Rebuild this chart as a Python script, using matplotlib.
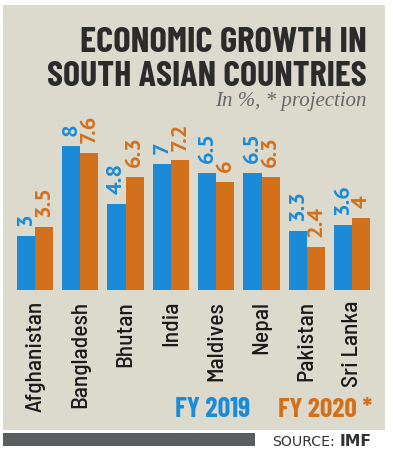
import matplotlib
matplotlib.use("Agg")
import matplotlib.pyplot as plt
from matplotlib import font_manager
from matplotlib.patches import Rectangle

countries = ["Afghanistan", "Bangladesh", "Bhutan", "India", "Maldives", "Nepal", "Pakistan", "Sri Lanka"]
fy2019 = [3, 8, 4.8, 7, 6.5, 6.5, 3.3, 3.6]
fy2020 = [3.5, 7.6, 6.3, 7.2, 6, 6.3, 2.4, 4]
labels2019 = ["3", "8", "4.8", "7", "6.5", "6.5", "3.3", "3.6"]
labels2020 = ["3.5", "7.6", "6.3", "7.2", "6", "6.3", "2.4", "4"]

BLUE = "#1b8bd8"
ORANGE = "#d2701c"
BG = "#dcd9cd"

fonts = [f for f in font_manager.fontManager.ttflist if "[" not in f.fname]
info = {}
for f in fonts:
    info.setdefault(f.name, set()).add((int(f.weight) if str(f.weight).isdigit() else f.weight, f.style))

def pick(prefs, default="DejaVu Sans"):
    for p in prefs:
        s = info.get(p, set())
        ws = {w for w, st in s if st == "normal"}
        if 700 in ws and 400 in ws:
            return p
    return default

COND = pick(["Barlow Condensed", "Asap Condensed", "Archivo Narrow", "PT Sans Narrow"])
SEMI = pick(["Barlow Semi Condensed", "Asap Condensed", "Archivo Narrow", "PT Sans Narrow"])
SANS = pick(["Source Sans Pro", "Source Sans 3", "PT Sans", "Fira Sans", "Open Sans", "Lato"])
SERIF = pick(["Gelasio", "Liberation Serif", "DejaVu Serif"], "DejaVu Serif")
semi_w = 500 if any(w == 500 for w, st in info.get(SEMI, set())) else "normal"

W, H = 393, 453
fig = plt.figure(figsize=(W / 100, H / 100), dpi=100)
fig.patch.set_facecolor("white")

def px(x, y):
    return x / W, 1 - y / H

fig.patches.append(Rectangle((3 / W, 1 - 430 / H), 382 / W, 425 / H, transform=fig.transFigure,
                             facecolor=BG, edgecolor="none", zorder=-5))
fig.patches.append(Rectangle((3 / W, 1 - 446 / H), 252 / W, 13 / H, transform=fig.transFigure,
                             facecolor="#5b5d61", edgecolor="none", zorder=-5))

sp = 45.3
left = 35 - 0.5 * sp
ax = fig.add_axes([left / W, (H - 290) / H, 8 * sp / W, 180 / H])
ax.set_zorder(2)
ax.set_xlim(-0.5, 7.5)
ax.set_ylim(0, 10)
ax.axis("off")
ax.patch.set_alpha(0)

x = list(range(len(countries)))
bw = 0.4
ax.bar([i - bw / 2 for i in x], fy2019, width=bw, color=BLUE, edgecolor="none")
ax.bar([i + bw / 2 for i in x], fy2020, width=bw, color=ORANGE, edgecolor="none")

fig.canvas.draw()
R = fig.canvas.get_renderer()

def fit(t, target, axis="w"):
    bb = t.get_window_extent(R)
    cur = bb.width if axis == "w" else bb.height
    t.set_fontsize(t.get_fontsize() * target / cur)
    return t.get_fontsize()

probe = fig.text(0, 0, "4.8", rotation=90, fontsize=15, fontweight="bold", family=SANS)
vsize = fit(probe, 31, "h")
probe.remove()
probe = fig.text(0, 0, "Afghanistan", rotation=90, fontsize=15, family=SEMI, fontweight=semi_w)
csize = fit(probe, 112, "h")
probe.remove()

for i in x:
    ax.annotate(labels2019[i], (i - bw / 2, fy2019[i]), xytext=(0, 7), textcoords="offset points",
                rotation=90, ha="center", va="bottom", color=BLUE, fontsize=vsize,
                fontweight="bold", family=SANS, annotation_clip=False)
    ax.annotate(labels2020[i], (i + bw / 2, fy2020[i]), xytext=(0, 7), textcoords="offset points",
                rotation=90, ha="center", va="bottom", color=ORANGE, fontsize=vsize,
                fontweight="bold", family=SANS, annotation_clip=False)
    ax.annotate(countries[i], (i, 0), xytext=(0, -8), textcoords="offset points",
                rotation=90, ha="center", va="top", color="#1a1a1a", fontsize=csize,
                family=SEMI, fontweight=semi_w, annotation_clip=False)

t1 = fig.text(*px(367, 52), "ECONOMIC GROWTH IN", ha="right", va="baseline", fontsize=24,
              fontweight="bold", color="#2b2b2b", family=COND)
fit(t1, 287)
t2 = fig.text(*px(367, 86), "SOUTH ASIAN COUNTRIES", ha="right", va="baseline", fontsize=24,
              fontweight="bold", color="#2b2b2b", family=COND)
fit(t2, 319)
t3 = fig.text(*px(367, 106), "In %, * projection", ha="right", va="baseline", fontsize=13.5,
              style="italic", color="#666666", family=SERIF)
fit(t3, 152)

l1 = fig.text(*px(250, 417), "FY 2019", ha="right", va="baseline", fontsize=18, fontweight="bold",
              color=BLUE, family=COND)
fit(l1, 75)
l2 = fig.text(*px(372, 417), "FY 2020 *", ha="right", va="baseline", fontsize=18, fontweight="bold",
              color=ORANGE, family=COND)
fit(l2, 94)

s1 = fig.text(*px(272, 446.5), "SOURCE:", ha="left", va="baseline", fontsize=10,
              color="#333333", family="DejaVu Sans")
fit(s1, 63)
s2 = fig.text(*px(340, 446.5), "IMF", ha="left", va="baseline", fontsize=10, fontweight="bold",
              color="#333333", family="DejaVu Sans")
fit(s2, 36)
s2.set_fontsize(min(s2.get_fontsize(), s1.get_fontsize() * 1.1))

fig.savefig("out.png", dpi=100, facecolor=fig.get_facecolor())
